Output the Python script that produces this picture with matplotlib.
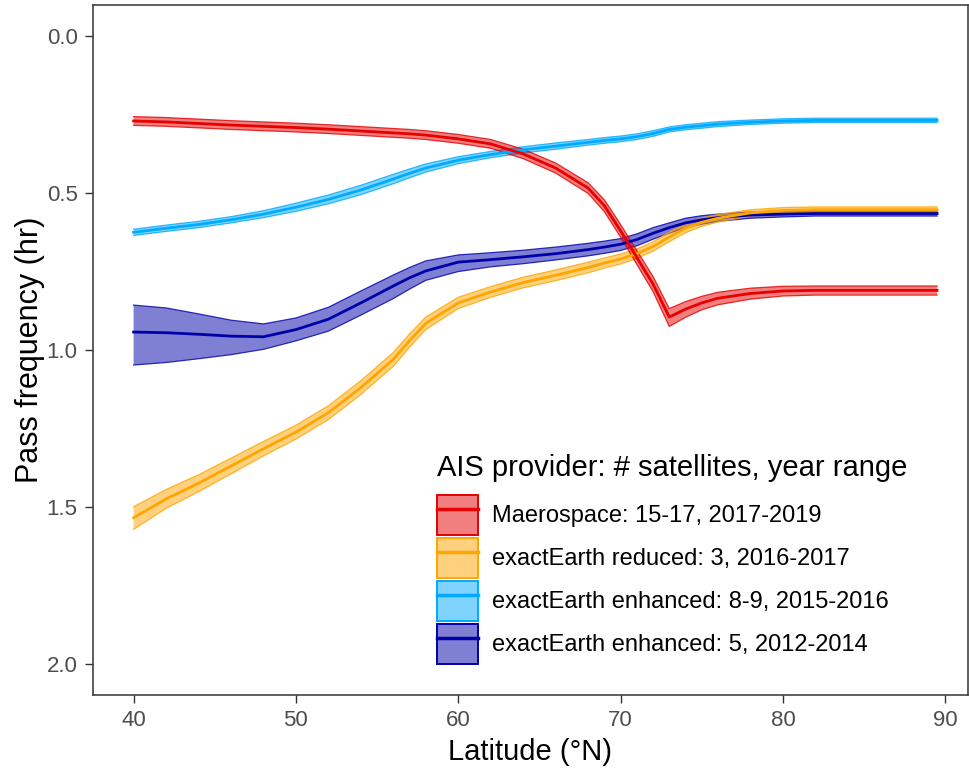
import matplotlib
matplotlib.use("Agg")
import matplotlib.pyplot as plt
from matplotlib.patches import Patch
from matplotlib.lines import Line2D

plt.rcParams["font.family"] = ["Liberation Sans", "DejaVu Sans"]

# latitude grid (deg N)
lat = [40, 42, 44, 46, 48, 50, 52, 54, 56, 57, 58, 60, 62, 64, 66, 68, 69, 70,
       71, 72, 73, 74, 75, 76, 78, 80, 82, 84, 86, 88, 89.5]

# Maerospace: 15-17, 2017-2019
mae_mid = [0.270, 0.273, 0.278, 0.283, 0.287, 0.291, 0.296, 0.302, 0.308, 0.311,
           0.315, 0.327, 0.343, 0.375, 0.420, 0.484, 0.540, 0.620, 0.705, 0.790,
           0.895, 0.870, 0.850, 0.835, 0.820, 0.812, 0.810, 0.810, 0.810, 0.810,
           0.810]
mae_lo = [0.256, 0.259, 0.264, 0.269, 0.273, 0.277, 0.282, 0.288, 0.294, 0.297,
          0.301, 0.313, 0.329, 0.360, 0.404, 0.467, 0.521, 0.600, 0.683, 0.766,
          0.868, 0.846, 0.829, 0.816, 0.803, 0.797, 0.796, 0.796, 0.796, 0.796,
          0.796]
mae_hi = [0.284, 0.287, 0.292, 0.297, 0.301, 0.305, 0.310, 0.316, 0.322, 0.325,
          0.329, 0.341, 0.357, 0.390, 0.436, 0.501, 0.559, 0.640, 0.727, 0.814,
          0.925, 0.896, 0.872, 0.856, 0.838, 0.828, 0.825, 0.825, 0.825, 0.825,
          0.825]

# exactEarth reduced: 3, 2016-2017
red_mid = [1.535, 1.475, 1.425, 1.370, 1.315, 1.262, 1.200, 1.120, 1.030, 0.970,
           0.915, 0.850, 0.815, 0.785, 0.762, 0.737, 0.723, 0.710, 0.693, 0.670,
           0.640, 0.612, 0.593, 0.580, 0.563, 0.555, 0.553, 0.553, 0.553, 0.553,
           0.553]
red_lo = [1.500, 1.445, 1.398, 1.345, 1.292, 1.240, 1.178, 1.098, 1.008, 0.949,
          0.895, 0.832, 0.798, 0.768, 0.745, 0.720, 0.707, 0.694, 0.678, 0.655,
          0.625, 0.598, 0.580, 0.568, 0.553, 0.546, 0.544, 0.544, 0.544, 0.544,
          0.544]
red_hi = [1.572, 1.505, 1.452, 1.395, 1.338, 1.284, 1.222, 1.142, 1.052, 0.991,
          0.935, 0.868, 0.832, 0.802, 0.779, 0.754, 0.739, 0.726, 0.708, 0.685,
          0.655, 0.626, 0.606, 0.592, 0.573, 0.564, 0.562, 0.562, 0.562, 0.562,
          0.562]

# exactEarth enhanced: 8-9, 2015-2016
e89_mid = [0.625, 0.612, 0.600, 0.585, 0.567, 0.545, 0.520, 0.490, 0.455, 0.437,
           0.420, 0.395, 0.377, 0.362, 0.350, 0.338, 0.332, 0.327, 0.320, 0.310,
           0.297, 0.290, 0.285, 0.280, 0.274, 0.270, 0.268, 0.268, 0.268, 0.268,
           0.268]
e89_lo = [0.615, 0.602, 0.590, 0.575, 0.556, 0.532, 0.506, 0.475, 0.440, 0.423,
          0.407, 0.384, 0.367, 0.352, 0.340, 0.329, 0.323, 0.318, 0.311, 0.301,
          0.289, 0.282, 0.277, 0.272, 0.267, 0.263, 0.261, 0.261, 0.261, 0.261,
          0.261]
e89_hi = [0.635, 0.622, 0.610, 0.595, 0.578, 0.558, 0.534, 0.505, 0.470, 0.451,
          0.433, 0.406, 0.387, 0.372, 0.360, 0.347, 0.341, 0.336, 0.329, 0.319,
          0.305, 0.298, 0.293, 0.288, 0.281, 0.277, 0.275, 0.275, 0.275, 0.275,
          0.275]

# exactEarth enhanced: 5, 2012-2014
e5_mid = [0.943, 0.945, 0.950, 0.956, 0.958, 0.935, 0.902, 0.850, 0.796, 0.770,
          0.748, 0.720, 0.712, 0.703, 0.693, 0.680, 0.672, 0.663, 0.648, 0.628,
          0.610, 0.595, 0.585, 0.578, 0.570, 0.567, 0.565, 0.565, 0.565, 0.565,
          0.565]
e5_lo = [0.857, 0.866, 0.885, 0.905, 0.917, 0.898, 0.864, 0.812, 0.761, 0.737,
         0.716, 0.697, 0.690, 0.682, 0.672, 0.660, 0.653, 0.645, 0.630, 0.610,
         0.595, 0.580, 0.572, 0.567, 0.560, 0.558, 0.557, 0.557, 0.557, 0.557,
         0.557]
e5_hi = [1.048, 1.040, 1.028, 1.015, 0.998, 0.971, 0.940, 0.889, 0.836, 0.806,
         0.778, 0.750, 0.735, 0.725, 0.713, 0.700, 0.692, 0.683, 0.668, 0.647,
         0.628, 0.610, 0.599, 0.590, 0.580, 0.576, 0.573, 0.573, 0.573, 0.573,
         0.573]

labels = ["Maerospace: 15-17, 2017-2019",
          "exactEarth reduced: 3, 2016-2017",
          "exactEarth enhanced: 8-9, 2015-2016",
          "exactEarth enhanced: 5, 2012-2014"]
colors = ["#E60000", "#FFA500", "#00AAFF", "#0000AA"]
series = [(mae_mid, mae_lo, mae_hi), (red_mid, red_lo, red_hi),
          (e89_mid, e89_lo, e89_hi), (e5_mid, e5_lo, e5_hi)]

fig = plt.figure(figsize=(9.7, 7.71), dpi=100)
ax = fig.add_axes([0.0959, 0.0986, 0.902, 0.895])

# draw oldest first so newer series sit on top
for (mid, lo, hi), col in reversed(list(zip(series, colors))):
    ax.fill_between(lat, lo, hi, facecolor=col, alpha=0.5, edgecolor="none", zorder=2)
    ax.plot(lat, lo, color=col, lw=0.9, alpha=0.8, zorder=2)
    ax.plot(lat, hi, color=col, lw=0.9, alpha=0.8, zorder=2)
    ax.plot(lat, mid, color=col, lw=2.0, zorder=3)

ax.set_xlim(37.5, 91.4)
ax.set_ylim(2.1, -0.1)
ax.set_xticks([40, 50, 60, 70, 80, 90])
ax.set_yticks([0.0, 0.5, 1.0, 1.5, 2.0])
ax.set_yticklabels(["0.0", "0.5", "1.0", "1.5", "2.0"])
ax.tick_params(labelsize=16, colors="#333333", labelcolor="#4D4D4D",
               length=6, width=1.0, pad=5)
for sp in ax.spines.values():
    sp.set_color("#333333")
    sp.set_linewidth(1.1)

ax.set_xlabel("Latitude (°N)", fontsize=21, labelpad=5)
ax.set_ylabel("Pass frequency (hr)", fontsize=22, labelpad=1)

# legend title placed separately so the gap to the keys matches
fig.text(437 / 970, 1 - 476 / 771, "AIS provider: # satellites, year range",
         fontsize=21, ha="left", va="baseline")
handles = [(Patch(facecolor=c, alpha=0.5, edgecolor="none"),
            Patch(facecolor="none", edgecolor=c, linewidth=1.4),
            Line2D([], [], color=c, lw=2.5)) for c in colors]
ax.legend(handles, labels, loc="upper left",
          bbox_to_anchor=(437 / 970, 1 - 495 / 771),
          bbox_transform=fig.transFigure, frameon=False, fontsize=17,
          handlelength=1.74, handleheight=2.23, labelspacing=0.127,
          handletextpad=0.6, borderpad=0, borderaxespad=0)

fig.savefig("out.png", dpi=100)
